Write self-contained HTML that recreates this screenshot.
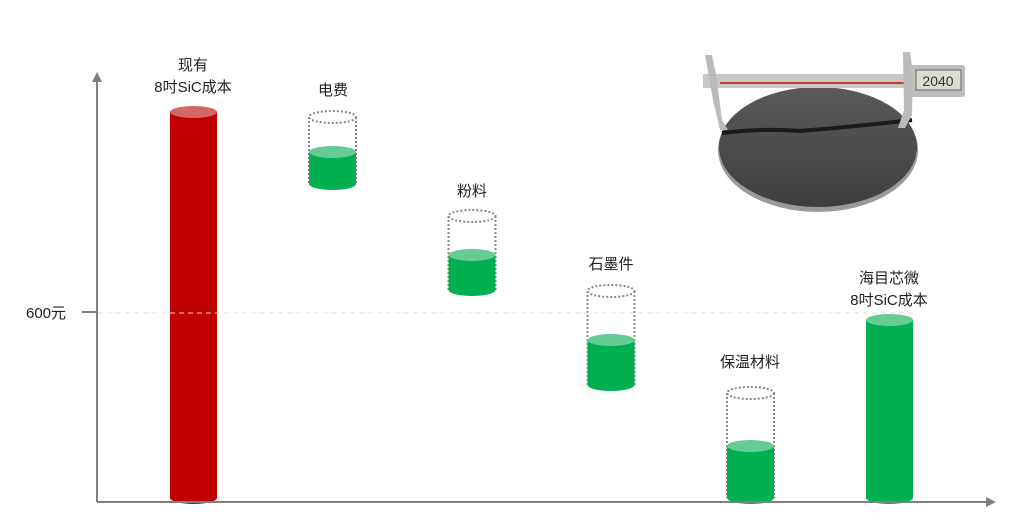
<!DOCTYPE html>
<html><head><meta charset="utf-8"><style>
html,body{margin:0;padding:0;background:#fff;}
svg{display:block;}
text{font-family:"Liberation Sans","Noto Sans CJK SC",sans-serif;font-size:15px;fill:#222;text-anchor:middle;}
</style></head><body>
<svg width="1015" height="532" viewBox="0 0 1015 532" xmlns="http://www.w3.org/2000/svg">
<!-- photo -->
<defs>
<linearGradient id="w" x1="0" y1="0" x2="0" y2="1"><stop offset="0" stop-color="#5a5a5a"/><stop offset="1" stop-color="#3e3e3e"/></linearGradient>
</defs>
<ellipse cx="818" cy="150" rx="100" ry="62" fill="#9a9a9a"/>
<ellipse cx="818" cy="147" rx="99" ry="60" fill="url(#w)"/>
<path d="M722 133 Q760 128 800 131 Q860 126 912 120" stroke="#1a1a1a" stroke-width="4" fill="none"/>
<rect x="703" y="74" width="258" height="14" fill="#c8c8c8"/>
<line x1="720" y1="83" x2="912" y2="83" stroke="#c0392b" stroke-width="2"/>
<path d="M705 55 L712 55 L716 74 L722 120 L728 130 L720 130 L713 100 Z" fill="#bbb"/>
<path d="M903 52 L910 52 L913 74 L912 115 L905 128 L898 128 L904 110 Z" fill="#bbb"/>
<rect x="910" y="65" width="55" height="32" rx="3" fill="#bdbdbd"/>
<rect x="916" y="70" width="45" height="20" fill="#d9dcd0" stroke="#666" stroke-width="1"/>
<text x="938" y="86" style="font-size:14px;fill:#333">2040</text>

<!-- axes -->
<line x1="97" y1="80" x2="97" y2="502" stroke="#7f7f7f" stroke-width="2"/>
<path d="M92 82 L97 72 L102 82 Z" fill="#7f7f7f"/>
<line x1="82" y1="312" x2="97" y2="312" stroke="#7f7f7f" stroke-width="2"/>
<text x="46" y="318" style="text-anchor:middle">600元</text>

<!-- red -->
<path d="M170 112 V498 A23.5 6 0 0 0 217 498 V112 Z" fill="#c00000"/>
<ellipse cx="193.5" cy="112" rx="23.5" ry="6" fill="#d66666"/>

<!-- dotted outlines -->
<g fill="none" stroke="#888" stroke-width="2" stroke-dasharray="2,2">
<ellipse cx="332.5" cy="117" rx="23.5" ry="6"/><path d="M309 117 V184 M356 117 V184"/>
<ellipse cx="472" cy="216" rx="23.5" ry="6"/><path d="M448.5 216 V291 M495.5 216 V291"/>
<ellipse cx="611" cy="291" rx="23.5" ry="6"/><path d="M587.5 291 V386 M634.5 291 V386"/>
<ellipse cx="750.5" cy="393" rx="23.5" ry="6"/><path d="M727 393 V498 M774 393 V498"/>
</g>

<!-- green -->
<g>
<path d="M309 152 V184 A23.5 6 0 0 0 356 184 V152 Z" fill="#00b050"/>
<ellipse cx="332.5" cy="152" rx="23.5" ry="6" fill="#66cc95"/>
<path d="M448.5 255 V290 A23.5 6 0 0 0 495.5 290 V255 Z" fill="#00b050"/>
<ellipse cx="472" cy="255" rx="23.5" ry="6" fill="#66cc95"/>
<path d="M587.5 340 V385 A23.5 6 0 0 0 634.5 385 V340 Z" fill="#00b050"/>
<ellipse cx="611" cy="340" rx="23.5" ry="6" fill="#66cc95"/>
<path d="M727 446 V498 A23.5 6 0 0 0 774 498 V446 Z" fill="#00b050"/>
<ellipse cx="750.5" cy="446" rx="23.5" ry="6" fill="#66cc95"/>
<path d="M866 320 V498 A23.5 6 0 0 0 913 498 V320 Z" fill="#00b050"/>
<ellipse cx="889.5" cy="320" rx="23.5" ry="6" fill="#66cc95"/>
</g>

<line x1="98" y1="313" x2="915" y2="313" stroke="#dddddd" stroke-width="1" stroke-dasharray="5,4"/>

<line x1="97" y1="502" x2="988" y2="502" stroke="#7f7f7f" stroke-width="2"/>
<path d="M986 497 L996 502 L986 507 Z" fill="#7f7f7f"/>

<!-- labels -->
<text x="193" y="70">现有</text>
<text x="193" y="92">8吋SiC成本</text>
<text x="333" y="95">电费</text>
<text x="472" y="196">粉料</text>
<text x="611" y="269">石墨件</text>
<text x="750" y="367">保温材料</text>
<text x="889" y="283">海目芯微</text>
<text x="889" y="305">8吋SiC成本</text>
</svg>
</body></html>
